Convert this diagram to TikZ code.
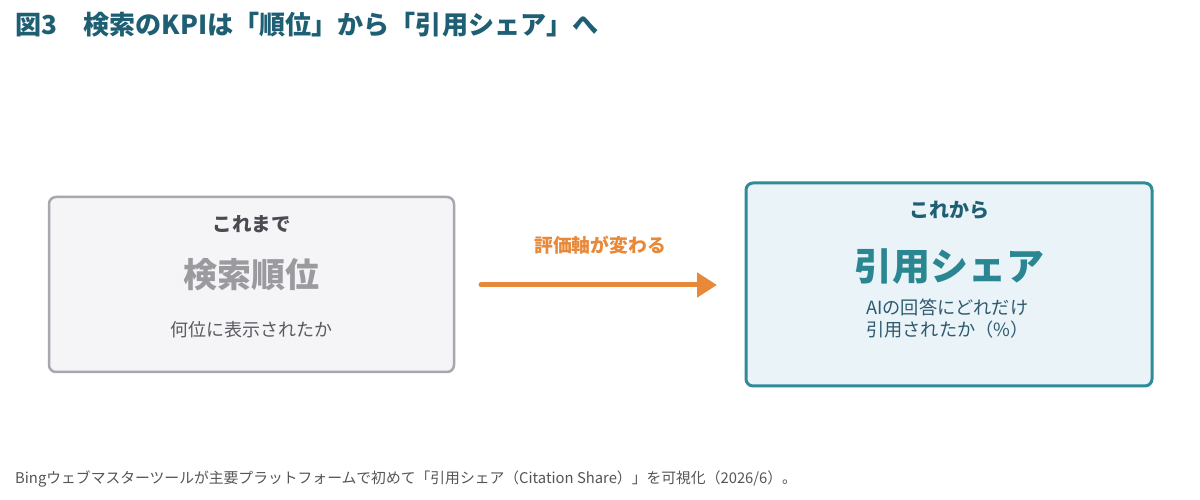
\documentclass[tikz,border=0pt]{standalone}
\usepackage{fontspec}
\setmainfont{Noto Sans CJK JP}
\usetikzlibrary{arrows.meta}
\definecolor{titlec}{HTML}{1F5F73}
\definecolor{oldborder}{HTML}{A9A7AD}
\definecolor{oldfill}{HTML}{F5F4F7}
\definecolor{oldhead}{HTML}{4A4A52}
\definecolor{oldbig}{HTML}{9B9B9F}
\definecolor{oldsub}{HTML}{5A5A60}
\definecolor{newborder}{HTML}{2E8B97}
\definecolor{newfill}{HTML}{EAF3F8}
\definecolor{newhead}{HTML}{1F5F73}
\definecolor{newbig}{HTML}{2A8791}
\definecolor{newsub}{HTML}{2D5A6E}
\definecolor{arrowc}{HTML}{E8893A}
\definecolor{footc}{HTML}{555555}
\tikzset{
  panel/.style={rounded corners=7bp, line width=2.5bp},
  fs/.style={font=\fontsize{#1bp}{#1bp}\selectfont},
  fsb/.style={font=\fontsize{#1bp}{#1bp}\selectfont\bfseries},
}
\begin{document}
\begin{tikzpicture}[x=1bp,y=-1bp]
\useasboundingbox[fill=white] (0,0) rectangle (1200,500);
\node[anchor=west, inner sep=0, fsb=26.1, text=titlec] (title) at (15,25) {図3　検索のKPIは「順位」から「引用シェア」へ};
% left panel
\draw[panel, draw=oldborder, fill=oldfill] (49,197) rectangle (454,372);
\node[fsb=19.5, text=oldhead, inner sep=0] (oldh) at (251.5,224) {これまで};
\node[fsb=34, text=oldbig, inner sep=0] (oldb) at (251.5,275) {検索順位};
\node[fs=18, text=oldsub, inner sep=0] (olds) at (251.5,330) {何位に表示されたか};
% right panel
\draw[panel, draw=newborder, fill=newfill, line width=3bp] (746,183) rectangle (1152,386);
\node[fsb=20, text=newhead, inner sep=0] (newh) at (949,210) {これから};
\node[fsb=38, text=newbig, inner sep=0] (newb) at (949,267) {引用シェア};
\node[text=newsub, inner sep=0, anchor=north west, align=left, font=\fontsize{18.2bp}{21.5bp}\selectfont] (news) at (866,299) {AIの回答にどれだけ\\引用されたか（\%）};
% arrow
\coordinate (as) at (481,285);
\coordinate (ae) at (717,285);
\draw[line width=5bp, draw=arrowc, line cap=round, -{Triangle[length=20bp,width=24bp]}] (as) -- (ae);
\node[fsb=18.8, text=arrowc, inner sep=0] (lab) at (600,245) {評価軸が変わる};
% footer
\node[anchor=west, inner sep=0, fs=14.8, text=footc] (foot) at (15,479) {Bingウェブマスターツールが主要プラットフォームで初めて「引用シェア（Citation Share）」を可視化（2026/6）。};
\end{tikzpicture}
\end{document}
